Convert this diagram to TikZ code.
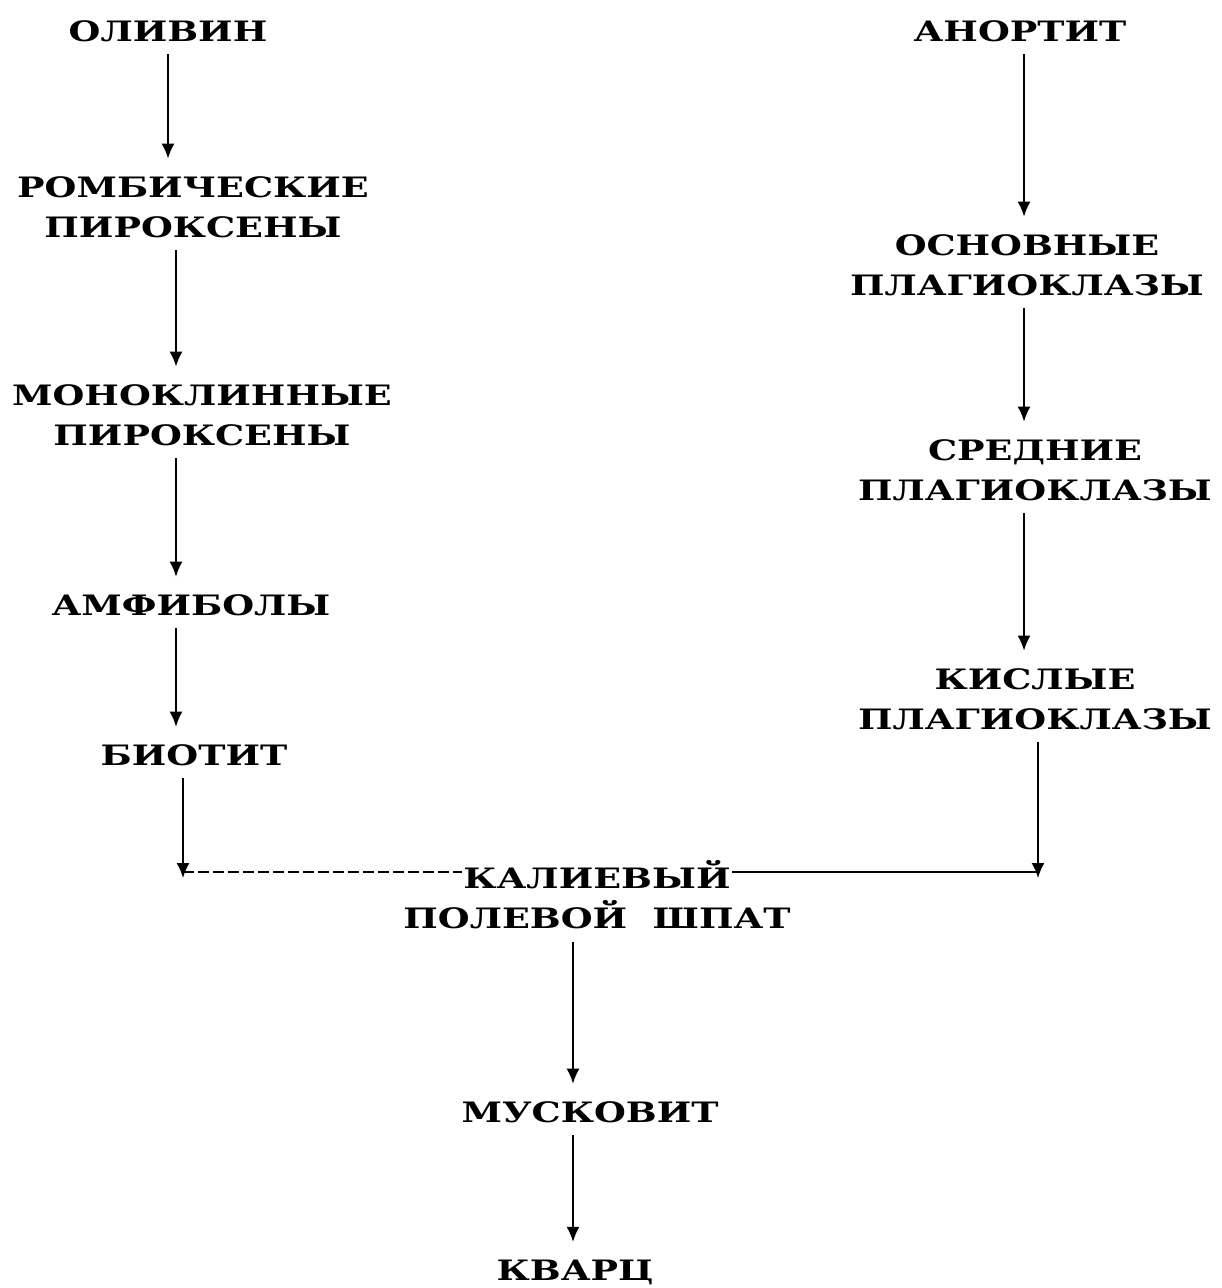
\documentclass[tikz,border=0pt]{standalone}
\usepackage{fontspec}
\newfontfamily\minfont{DejaVu Serif}[FakeStretch=1.3]
\usetikzlibrary{arrows.meta,backgrounds}

\begin{document}
\begin{tikzpicture}[every node/.style={font=\minfont\bfseries\fontsize{8}{11.4}\selectfont, align=center, inner sep=0pt},
    link/.style={-{Latex[length=1.5mm,width=1.3mm]}, line width=0.5pt, shorten <=0.12cm, shorten >=0.17cm}]
  \useasboundingbox (0,0) rectangle (12.21,-12.88);
  % columns for the arrows
  \coordinate (lcol) at (1.76,0);
  \coordinate (rcol) at (10.24,0);
  \coordinate (mcol) at (5.73,0);
  \coordinate (jl) at (1.83,-8.72);
  \coordinate (jr) at (10.38,-8.72);

  % left branch
  \node at (1.68,-0.31) (olivin) {ОЛИВИН};
  \node at (1.93,-2.07) (romb) {РОМБИЧЕСКИЕ\\ПИРОКСЕНЫ};
  \node at (2.02,-4.15) (mono) {МОНОКЛИННЫЕ\\ПИРОКСЕНЫ};
  \node at (1.91,-6.05) (amf) {АМФИБОЛЫ};
  \node at (1.94,-7.55) (biot) {БИОТИТ};
  % right branch
  \node at (10.20,-0.31) (anort) {АНОРТИТ};
  \node at (10.27,-2.65) (osn) {ОСНОВНЫЕ\\ПЛАГИОКЛАЗЫ};
  \node at (10.35,-4.70) (sred) {СРЕДНИЕ\\ПЛАГИОКЛАЗЫ};
  \node at (10.35,-6.99) (kisl) {КИСЛЫЕ\\ПЛАГИОКЛАЗЫ};
  % common tail
  \node at (5.97,-8.94) (kfs) {\fboxsep=0.5pt\colorbox{white}{КАЛИЕВЫЙ}\\ПОЛЕВОЙ\ \ ШПАТ};
  \node at (5.90,-11.12) (musk) {МУСКОВИТ};
  \node at (5.75,-12.72) (kvarc) {КВАРЦ};

  \draw[link] (olivin.south -| olivin) -- (romb.north -| olivin);
  \draw[link] (romb.south -| lcol) -- (mono.north -| lcol);
  \draw[link] (mono.south -| lcol) -- (amf.north -| lcol);
  \draw[link] (amf.south -| lcol) -- (biot.north -| lcol);
  \draw[link, shorten >=-0.06cm] (biot.south -| jl) -- (jl);

  \draw[link] (anort.south -| rcol) -- (osn.north -| rcol);
  \draw[link] (osn.south -| rcol) -- (sred.north -| rcol);
  \draw[link] (sred.south -| rcol) -- (kisl.north -| rcol);
  \draw[link, shorten >=-0.06cm] (kisl.south -| jr) -- (jr);

  \draw[link] (kfs.south -| mcol) -- (musk.north -| mcol);
  \draw[link] (musk.south -| mcol) -- (kvarc.north -| mcol);

  \begin{scope}[on background layer]
    \draw[line width=0.5pt, dash pattern=on 1.1mm off 0.4mm] (jl) -- (jl -| kfs);
    \draw[line width=0.5pt] (jl -| kfs) -- (jr);
  \end{scope}
\end{tikzpicture}
\end{document}
